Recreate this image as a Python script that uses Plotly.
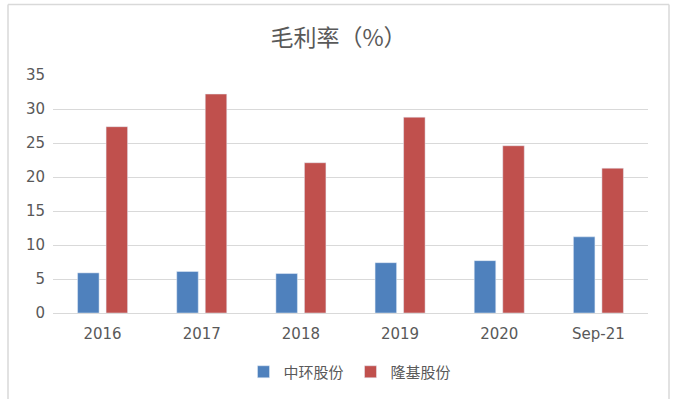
import plotly.graph_objects as go

categories = ["2016", "2017", "2018", "2019", "2020", "Sep-21"]
zhonghuan = [5.9, 6.1, 5.8, 7.4, 7.7, 11.2]
longji = [27.4, 32.2, 22.1, 28.8, 24.6, 21.3]
series_names = ["中环股份", "隆基股份"]
title_text = "毛利率（%）"
y_ticks = [0, 5, 10, 15, 20, 25, 30, 35]

FONT = "Noto Sans CJK SC, Verdana, DejaVu Sans, sans-serif"
TICKFONT = "DejaVu Sans, Verdana, sans-serif"

fig = go.Figure()
fig.add_trace(go.Bar(x=categories, y=zhonghuan, name=series_names[0], marker_color="#4F81BD"))
fig.add_trace(go.Bar(x=categories, y=longji, name=series_names[1], marker_color="#C0504D"))

L, R, T, B = 53, 29, 75, 86
W, H = 677, 399
pw, ph = W - L - R, H - T - B

def px_to_paper_x(px):
    return (px - L) / pw

def px_to_paper_y(py):
    return (H - B - py) / ph

fig.update_layout(
    width=W, height=H,
    margin=dict(l=L, r=R, t=T, b=B, autoexpand=False),
    paper_bgcolor="white", plot_bgcolor="white",
    barmode="group", bargap=0.425, bargroupgap=0.245,
    title=dict(text=title_text, x=0.5, xanchor="center", y=1 - 38 / H, yanchor="middle",
               font=dict(family=FONT, size=23, color="#595959")),
    font=dict(family=FONT, size=14, color="#595959"),
    legend=dict(orientation="h", x=0.5, xanchor="center", y=px_to_paper_y(372), yanchor="middle",
                font=dict(size=15, color="#595959"), itemwidth=30, traceorder="normal",
                entrywidth=62, entrywidthmode="pixels"),
    xaxis=dict(showline=True, linecolor="#D9D9D9", linewidth=1, ticks="", ticklabelstandoff=7,
               tickfont=dict(family=TICKFONT, size=15, color="#595959")),
    yaxis=dict(range=[0, 35], tickvals=y_ticks, showgrid=True, gridcolor="#D9D9D9", gridwidth=1,
               zeroline=False, showline=False, ticks="", ticklen=0, ticklabelstandoff=7,
               tickfont=dict(family=TICKFONT, size=15, color="#595959")),
    shapes=[
        dict(type="line", xref="paper", yref="paper", x0=px_to_paper_x(8), x1=px_to_paper_x(8),
             y0=px_to_paper_y(4.5), y1=px_to_paper_y(400), line=dict(color="#D9D9D9", width=1.5)),
        dict(type="line", xref="paper", yref="paper", x0=px_to_paper_x(669), x1=px_to_paper_x(669),
             y0=px_to_paper_y(4.5), y1=px_to_paper_y(400), line=dict(color="#D9D9D9", width=1.5)),
        dict(type="line", xref="paper", yref="paper", x0=px_to_paper_x(8), x1=px_to_paper_x(669),
             y0=px_to_paper_y(4.5), y1=px_to_paper_y(4.5), line=dict(color="#D9D9D9", width=1.5)),
    ],
)

fig.write_html("out.html", config={"displayModeBar": False},
               post_script="document.body.style.margin='0';")
